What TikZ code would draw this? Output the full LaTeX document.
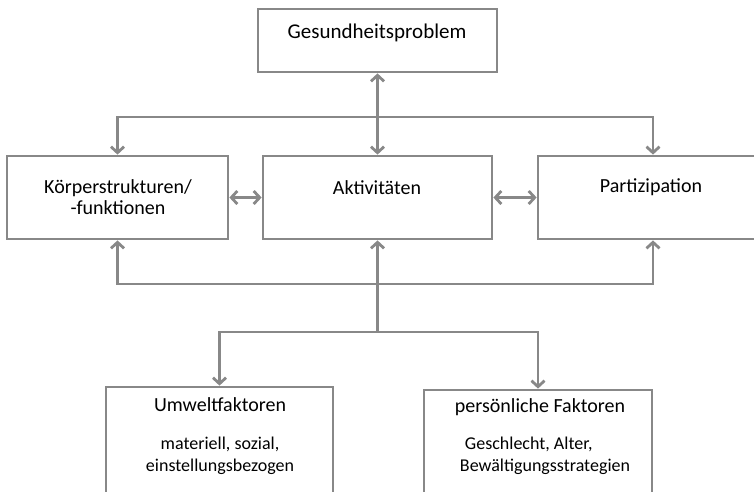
\documentclass[tikz,border=0pt]{standalone}
\usepackage{fontspec}
\setmainfont{Carlito}
\usetikzlibrary{arrows.meta}
\definecolor{linegray}{RGB}{136,136,136}

\begin{document}
\begin{tikzpicture}[x=1pt,y=-1pt,font=\fontsize{20}{21}\selectfont,
  box/.style={draw=linegray,line width=2.8pt,inner sep=0pt},
  link/.style={draw=linegray,line width=2.8pt,-{Straight Barb[length=6pt,width=13pt]}},
  both/.style={link,{Straight Barb[length=6pt,width=13pt]}-{Straight Barb[length=6pt,width=13pt]}},
  detail/.style={font=\fontsize{18}{22}\selectfont}]

  \clip (0,0) rectangle (754,491);

  % boxes
  \node[box,minimum width=239pt,minimum height=63pt] (gp) at (377.5,40.5) {};
  \node[box,minimum width=221pt,minimum height=83pt] (koerper) at (117.5,197.5) {};
  \node[box,minimum width=229pt,minimum height=83pt] (akt) at (377.5,197.5) {};
  \node[box,minimum width=230pt,minimum height=83pt] (part) at (653,197.5) {};
  \node[box,minimum width=227pt,minimum height=140pt] (umwelt) at (219.5,457) {};
  \node[box,minimum width=228pt,minimum height=140pt] (pers) at (538,460) {};

  % texts
  \node[font=\fontsize{21}{22}\selectfont] (gptext) at (377,33) {Gesundheitsproblem};
  \node[align=center] (ktext) at (118,197) {Körperstrukturen/\\-funktionen};
  \node (atext) at (377,188) {Aktivitäten};
  \node (ptext) at (651,187) {Partizipation};
  \node (utext) at (220,405) {Umweltfaktoren};
  \node[detail,align=center] (udetail) at (220,456) {materiell, sozial,\\einstellungsbezogen};
  \node (pftext) at (540,407) {persönliche Faktoren};
  \node[detail,align=left] (pdetail) at (545,456) {\hspace{5pt}Geschlecht, Alter,\\Bewältigungsstrategien};

  % junctions
  \coordinate (top) at (377.5,117);
  \coordinate (low) at (377.5,284);
  \coordinate (fork) at (377.5,332);

  % arrows
  \draw[both] (gp.south) -- (akt.north);
  \draw[link] (top) -| (koerper.north);
  \draw[link] (top) -| (part.north);
  \draw[both] (koerper.east) -- (akt.west);
  \draw[both] (akt.east) -- (part.west);
  \draw[link] (low) -| (koerper.south);
  \draw[link] (low) -| (part.south);
  \draw[link] (fork) -- (akt.south);
  \draw[link] (fork) -| (umwelt.north);
  \draw[link] (fork) -| (pers.north);

\end{tikzpicture}
\end{document}
